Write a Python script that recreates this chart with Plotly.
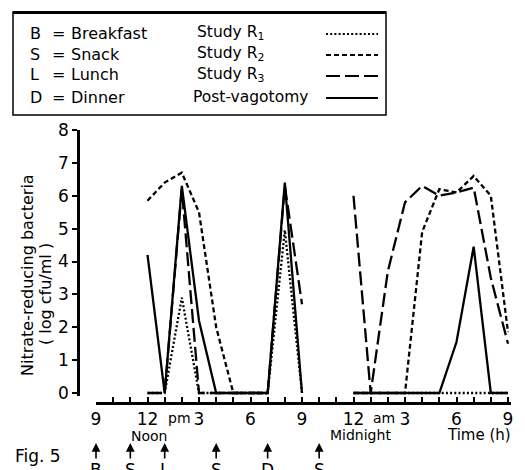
import plotly.graph_objects as go

W, H = 525, 470

# Sampling times, in hours after 9 am (12 noon .. 9 am next morning)
hours = list(range(3, 25))

# Nitrate-reducing bacteria, log cfu/ml (None = no sample, 10 pm and 11 pm)
study_r1 = [0, 0, 2.9, 0, 0, 0, 0, 0, 4.95, 0, None, None,
            0, 0, 0, 0, 0, 0, 0, 0, 0, 0]
study_r2 = [5.85, 6.4, 6.7, 5.5, 2.0, 0, 0, 0, None, None, None, None,
            0, 0, 0, 0, 4.9, 6.2, 6.1, 6.6, 6.0, 1.85]
study_r3 = [0, 0, 6.2, 0, 0, 0, 0, 0, 6.3, 2.7, None, None,
            6.0, 0, 3.7, 5.8, 6.3, 6.0, 6.1, 6.25, 3.5, 1.5]
post_vagotomy = [4.2, 0, 6.3, 2.2, 0, 0, 0, 0, 6.4, 0, None, None,
                 0, 0, 0, 0, 0, 0, 1.55, 4.45, 0, 0]

# Axis tick labels
x_tickvals = [0, 3, 6, 9, 12, 15, 18, 21, 24]
x_ticktext = ["9", "12", "3", "6", "9", "12", "3", "6", "9"]
y_tickvals = list(range(0, 9))

# Meals: (hour after 9 am, letter)
meal_hours = [0, 2, 4, 7, 10, 13]
meal_letters = ["B", "S", "L", "S", "D", "S"]

# Key text
key_meals = ["B = Breakfast", "S = Snack", "L = Lunch", "D = Dinner"]
key_series = ["Study R<sub>1</sub>", "Study R<sub>2</sub>", "Study R<sub>3</sub>", "Post-vagotomy"]

FONT = "DejaVu Sans"
DOT = "2px,2.2px"
SHORT = "5px,3px"
LONG = "14px,5px"
series = [
    (study_r1, DOT, "Study R1"),
    (study_r2, SHORT, "Study R2"),
    (study_r3, LONG, "Study R3"),
    (post_vagotomy, "solid", "Post-vagotomy"),
]


def px(x):
    return x / W


def py(y):
    return 1 - y / H


def label(x, y, text, size, xanchor="center", xref="paper", angle=0):
    """Plain text placed by its centre line (y in pixels from the top)."""
    return dict(xref=xref, yref="paper", x=x, y=py(y), text=text,
                showarrow=False, xanchor=xanchor, yanchor="middle",
                textangle=angle,
                font=dict(family=FONT, size=size, color="black"))


fig = go.Figure()
for vals, dash, name in series:
    fig.add_trace(go.Scatter(
        x=hours, y=vals, mode="lines", name=name, connectgaps=False,
        line=dict(color="black", width=2.3, dash=dash),
    ))

# pixel geometry of the plotting frame
x0_px, hour_px = 96, (508 - 96) / 24
y0_px, unit_px = 393, (393 - 130) / 8
x_hi = 24.15
y_lo = -0.1

shapes = []
annotations = []

# key box
shapes.append(dict(type="rect", xref="paper", yref="paper",
                   x0=px(13), x1=px(386), y0=py(115), y1=py(12),
                   line=dict(color="black", width=1.5)))
shapes.append(dict(type="line", xref="paper", yref="paper",
                   x0=px(13), x1=px(386), y0=py(12.5), y1=py(12.5),
                   line=dict(color="black", width=3)))
row_y = [33, 54, 75, 97]
dashes = [DOT, SHORT, LONG, "solid"]
for i, ry in enumerate(row_y):
    letter, word = key_meals[i].split(" = ")
    annotations.append(label(px(28), ry, letter, 16, "left"))
    annotations.append(label(px(50), ry, "=", 16, "left"))
    annotations.append(label(px(69), ry, word, 16, "left"))
    annotations.append(label(px(195 if i < 3 else 191), ry, key_series[i], 15.5, "left"))
    shapes.append(dict(type="line", xref="paper", yref="paper",
                       x0=px(326), x1=px(378), y0=py(ry + 1), y1=py(ry + 1),
                       line=dict(color="black", width=2, dash=dashes[i])))

# texts around the time axis
annotations.append(label(4.85, 418, "pm", 14, xref="x"))
annotations.append(label(16.8, 418, "am", 14, xref="x"))
annotations.append(label(3.1, 436, "Noon", 14, xref="x"))
annotations.append(label(15.4, 435, "Midnight", 14, xref="x"))
annotations.append(label(px(513), 435, "Time (h)", 15, "right"))
annotations.append(label(px(13), 456, "Fig. 5", 17, "left"))

# y-axis title, two lines
annotations.append(label(px(27), 275, "Nitrate-reducing bacteria", 16, angle=-90))
annotations.append(label(px(45), 294, "( log cfu/ml )", 16, angle=-90))

# meal arrows
for h, letter in zip(meal_hours, meal_letters):
    annotations.append(dict(xref="x", yref="paper", x=h, y=py(443), text=letter,
                            showarrow=True, ax=0, ay=28, arrowhead=2, arrowsize=1.1,
                            arrowwidth=1.6, arrowcolor="black", standoff=0,
                            font=dict(family=FONT, size=17, color="black")))

fig.update_layout(
    template="none",
    width=W, height=H,
    margin=dict(l=0, r=0, t=0, b=0, autoexpand=False),
    paper_bgcolor="white", plot_bgcolor="white",
    showlegend=False,
    shapes=shapes,
    annotations=annotations,
    xaxis=dict(
        domain=[px(x0_px), px(x0_px + x_hi * hour_px)],
        range=[0, x_hi], anchor="free", position=py(403), automargin=False,
        tickvals=x_tickvals, ticktext=x_ticktext,
        ticks="inside", ticklen=5, tickwidth=1.5, tickcolor="black",
        minor=dict(dtick=1, tick0=0, ticks="inside", ticklen=5, tickwidth=1.5,
                   tickcolor="black"),
        showline=True, linewidth=3, linecolor="black",
        showgrid=False, zeroline=False,
        tickfont=dict(family=FONT, size=17, color="black"),
    ),
    yaxis=dict(
        domain=[py(y0_px - y_lo * unit_px), py(130)],
        range=[y_lo, 8], anchor="free", position=px(78), automargin=False,
        tickvals=y_tickvals,
        ticks="outside", ticklen=5, tickwidth=1.5, tickcolor="black",
        showline=True, linewidth=2.5, linecolor="black",
        showgrid=False, zeroline=False,
        tickfont=dict(family=FONT, size=17, color="black"),
    ),
)

fig.write_html("out.html")
